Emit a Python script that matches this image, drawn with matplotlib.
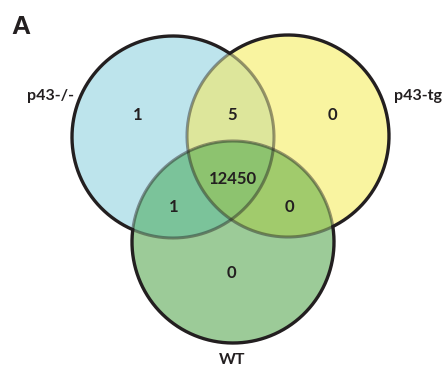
import numpy as np
import matplotlib
matplotlib.use("Agg")
import matplotlib.pyplot as plt
from matplotlib.patches import Circle, Polygon

# Data
set_names = ["p43-/-", "p43-tg", "WT"]
# region counts: only A, only B, only C, A&B, A&C, B&C, A&B&C
count_a = 1
count_b = 0
count_c = 0
count_ab = 5
count_ac = 1
count_bc = 0
count_abc = 12450
panel_label = "A"

# geometry (pixel space)
centers = [(173, 137), (288, 136), (233, 242)]
radius = 101

col_a = "#BDE4EC"
col_b = "#F9F4A0"
col_c = "#9CCB98"
col_ab = "#DDE69B"
col_ac = "#7BC39A"
col_bc = "#A1CB6C"
col_abc = "#8DC36F"
edge = "#231F20"

fig = plt.figure(figsize=(4.48, 3.76), dpi=100)
ax = fig.add_axes([0, 0, 1, 1])
ax.set_xlim(0, 448)
ax.set_ylim(376, 0)
ax.set_aspect("equal")
ax.axis("off")

def circ(i, color, z, clip=None):
    p = Circle(centers[i], radius, facecolor=color, edgecolor="none", zorder=z)
    ax.add_patch(p)
    if clip is not None:
        p.set_clip_path(clip)
    return p

circ(0, col_a, 1)
circ(1, col_b, 1)
circ(2, col_c, 1)

clipA = Circle(centers[0], radius, transform=ax.transData, facecolor="none", edgecolor="none")
clipB = Circle(centers[1], radius, transform=ax.transData, facecolor="none", edgecolor="none")
ax.add_patch(clipA); ax.add_patch(clipB)
circ(1, col_ab, 2, clipA)
circ(2, col_ac, 2, clipA)
circ(2, col_bc, 2, clipB)

th = np.linspace(0, 2 * np.pi, 1441)
def pts(i):
    cx, cy = centers[i]
    return np.column_stack([cx + radius * np.cos(th), cy + radius * np.sin(th)])
def inside(p, i):
    cx, cy = centers[i]
    return (p[:, 0] - cx) ** 2 + (p[:, 1] - cy) ** 2 < radius ** 2
pa, pb = pts(0), pts(1)
lens = np.vstack([pa[inside(pa, 1)], pb[inside(pb, 0)]])
cen = lens.mean(axis=0)
order = np.argsort(np.arctan2(lens[:, 1] - cen[1], lens[:, 0] - cen[0]))
lens_poly = Polygon(lens[order], closed=True, facecolor="none", edgecolor="none", transform=ax.transData)
ax.add_patch(lens_poly)
circ(2, col_abc, 3, lens_poly)

# outlines: black where on the outside, translucent where inside another set
for i in range(3):
    p = pts(i)
    inn = np.zeros(len(p), bool)
    for j in range(3):
        if j != i:
            inn |= inside(p, j)
    # roll so the sequence starts at a transition to avoid wrap split
    start = np.argmax(inn[:-1] != inn[1:]) + 1
    p2 = np.roll(p[:-1], -start, axis=0)
    m2 = np.roll(inn[:-1], -start)
    x_out = np.where(~m2, p2[:, 0], np.nan)
    y_out = np.where(~m2, p2[:, 1], np.nan)
    x_in = np.where(m2, p2[:, 0], np.nan)
    y_in = np.where(m2, p2[:, 1], np.nan)
    ax.plot(x_in, y_in, color=edge, lw=2.2, alpha=0.45, zorder=4, solid_capstyle="butt")
    ax.plot(x_out, y_out, color=edge, lw=2.4, zorder=5, solid_capstyle="round")

num_font = dict(family="Lato", fontweight="bold", fontsize=12, color=edge, ha="center", va="center", zorder=6)
ax.text(138, 115, str(count_a), **num_font)
ax.text(332, 115, str(count_b), **num_font)
ax.text(231, 273, str(count_c), **num_font)
ax.text(232, 115, str(count_ab), **num_font)
ax.text(174, 207, str(count_ac), **num_font)
ax.text(289, 207, str(count_bc), **num_font)
ax.text(233, 179, str(count_abc), **num_font)

lab_font = dict(family="Lato", fontweight="bold", fontsize=11.5, color=edge, va="center", zorder=6)
ax.text(50, 96, set_names[0], ha="center", **lab_font)
ax.text(418, 96, set_names[1], ha="center", **lab_font)
ax.text(232, 360, set_names[2], ha="center", **lab_font)

ax.text(11, 27, panel_label, family="Liberation Sans", fontweight="bold", fontsize=19, color=edge, ha="left", va="center")

fig.savefig("out.png", dpi=100)
